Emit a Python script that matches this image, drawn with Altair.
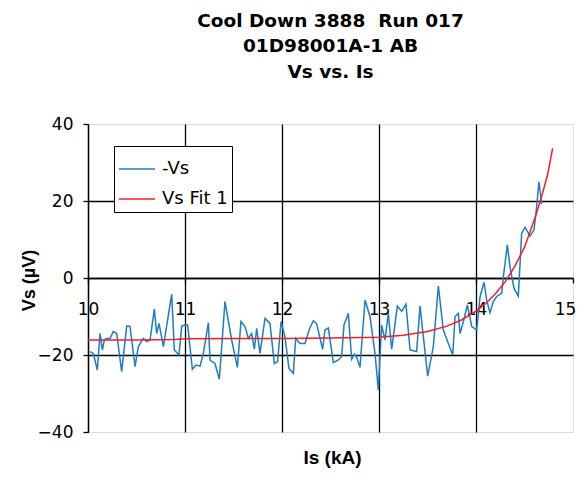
import altair as alt
import pandas as pd

title_lines = ["Cool Down 3888\u00a0 Run 017", "01D98001A-1 AB", "Vs vs. Is"]
series_names = ["-Vs", "Vs Fit 1"]
series_colors = ["#1C7DC5", "#F41E26"]
x_ticks = [10, 11, 12, 13, 14, 15]
y_ticks = [-40, -20, 0, 20, 40]

vs_is = [10.02, 10.055, 10.096, 10.124, 10.148, 10.168, 10.192, 10.227, 10.261, 10.296,
         10.347, 10.399, 10.433, 10.485, 10.519, 10.57, 10.605, 10.639, 10.684, 10.708,
         10.732, 10.777, 10.821, 10.863, 10.89, 10.938, 10.966, 11.0, 11.027, 11.076,
         11.113, 11.155, 11.189, 11.241, 11.258, 11.309, 11.354, 11.412, 11.481, 11.54,
         11.577, 11.619, 11.653, 11.687, 11.715, 11.739, 11.773, 11.825, 11.876, 11.921,
         11.955, 11.99, 12.03, 12.072, 12.117, 12.141, 12.186, 12.237, 12.282, 12.323,
         12.357, 12.419, 12.443, 12.478, 12.529, 12.581, 12.615, 12.639, 12.684, 12.718,
         12.746, 12.77, 12.804, 12.856, 12.907, 12.959, 12.993, 13.027, 13.062, 13.096,
         13.131, 13.189, 13.234, 13.278, 13.32, 13.388, 13.423, 13.457, 13.502, 13.56,
         13.612, 13.663, 13.715, 13.76, 13.784, 13.818, 13.835, 13.87, 13.911, 13.956,
         14.007, 14.042, 14.083, 14.11, 14.144, 14.179, 14.213, 14.265, 14.282, 14.323,
         14.351, 14.392, 14.436, 14.471, 14.505, 14.557, 14.598, 14.625, 14.649, 14.677]
vs_val = [-19.1, -19.6, -23.9, -14.4, -18.7, -16.1, -15.7, -15.7, -13.9, -14.4,
          -24.3, -12.5, -12.6, -23.0, -17.8, -15.7, -16.5, -16.1, -8.1, -14.4,
          -11.8, -17.8, -10.9, -4.2, -18.7, -20.0, -12.5, -12.2, -12.2, -23.7,
          -22.6, -22.9, -19.6, -11.6, -21.3, -22.2, -26.3, -6.1, -16.1, -23.2,
          -11.3, -12.6, -15.7, -14.4, -18.5, -13.1, -19.6, -10.5, -11.8, -22.2,
          -21.7, -11.3, -15.2, -23.5, -24.8, -15.7, -17.0, -17.0, -13.3, -11.1,
          -11.9, -18.5, -13.5, -13.0, -22.0, -21.3, -20.4, -12.2, -9.2, -21.1,
          -19.8, -20.6, -23.2, -5.7, -10.0, -19.6, -29.1, -12.2, -16.1, -9.2,
          -18.5, -7.3, -8.7, -6.8, -18.7, -19.1, -7.3, -15.2, -25.5, -17.8,
          -2.1, -13.5, -17.0, -20.0, -10.0, -9.2, -14.4, -11.3, -7.0, -12.6,
          -13.5, -4.8, -1.1, -5.7, -9.0, -6.1, -4.8, -4.0, 0.3, 8.6,
          2.9, -2.7, -4.7, 11.6, 13.2, 10.9, 12.5, 18.5, 25.0, 19.2]

fit_is = [10.0, 10.5, 10.9, 11.0, 11.5, 12.0, 12.5, 13.0, 13.25, 13.5, 13.7, 13.85,
          14.0, 14.1, 14.2, 14.3, 14.4, 14.5, 14.56, 14.62, 14.68, 14.74, 14.79]
fit_val = [-16.1, -16.1, -16.0, -15.8, -15.7, -15.7, -15.6, -15.4, -14.9, -13.9, -12.5, -10.9,
           -8.6, -6.6, -4.1, -1.0, 3.0, 8.0, 12.2, 16.5, 21.5, 27.0, 33.7]

df = pd.concat([
    pd.DataFrame({"I": vs_is, "V": vs_val, "series": series_names[0]}),
    pd.DataFrame({"I": fit_is, "V": fit_val, "series": series_names[1]}),
])

font = "DejaVu Sans"

chart = alt.Chart(df).mark_line(strokeWidth=1.5).encode(
    x=alt.X("I:Q",
            scale=alt.Scale(domain=[10, 15], nice=False, zero=False),
            axis=alt.Axis(values=x_ticks, format="d", offset=-154,
                          title="Is (kA)", titleX=244, titleY=179,
                          titleBaseline="middle", titleAlign="center",
                          titleFont="Liberation Sans", titleFontSize=19, titleFontWeight="bold",
                          titleColor="black",
                          labelFont=font, labelFontSize=17, labelColor="black",
                          labelPadding=18, labelFlush=False, labelOverlap=False,
                          labelOffset={"condition": {"test": "datum.value == 15", "value": -8}, "value": 0},
                          tickSize=5, tickColor="black", tickWidth=1.3,
                          domainColor="black", domainWidth=1.3,
                          gridColor="black", gridWidth=1.3,
                          gridOpacity={"condition": {"test": "datum.value == 15", "value": 0}, "value": 1})),
    y=alt.Y("V:Q",
            scale=alt.Scale(domain=[-40, 40], nice=False),
            axis=alt.Axis(values=y_ticks,
                          title="Vs (µV)", titleX=-59, titleY=156,
                          titleBaseline="middle", titleAlign="center", titleAngle=270,
                          titleFont="Liberation Sans", titleFontSize=18, titleFontWeight="bold",
                          titleColor="black",
                          labelFont=font, labelFontSize=17, labelColor="black",
                          labelPadding=10, labelFlush=False,
                          tickSize=5, tickColor="black", tickWidth=1.3,
                          domainColor="black", domainWidth=1.3,
                          gridColor="black", gridWidth=1.3,
                          gridOpacity={"condition": {"test": "abs(datum.value) == 40", "value": 0}, "value": 1})),
    color=alt.Color("series:N",
                    scale=alt.Scale(domain=series_names, range=series_colors),
                    legend=alt.Legend(title=None, orient="none", legendX=26, legendY=22,
                                      strokeColor="black", fillColor="white", padding=4,
                                      labelFont=font, labelFontSize=18, labelColor="black",
                                      symbolType="stroke", symbolSize=1296, symbolStrokeWidth=1.5,
                                      labelOffset=6, rowPadding=2)),
).properties(
    width=485,
    height=308,
    title=alt.TitleParams(text=title_lines, font=font, fontSize=18.5, fontWeight="bold",
                          color="black", anchor="middle", offset=34, lineHeight=25.5),
    autosize=alt.AutoSizeParams(type="none"),
    padding={"left": 80, "top": 116, "right": 3, "bottom": 38},
).configure_view(
    stroke="#8c8c8c", strokeWidth=2
).configure(background="white")

chart.save("out.html", embed_options={"renderer": "svg", "actions": False})
